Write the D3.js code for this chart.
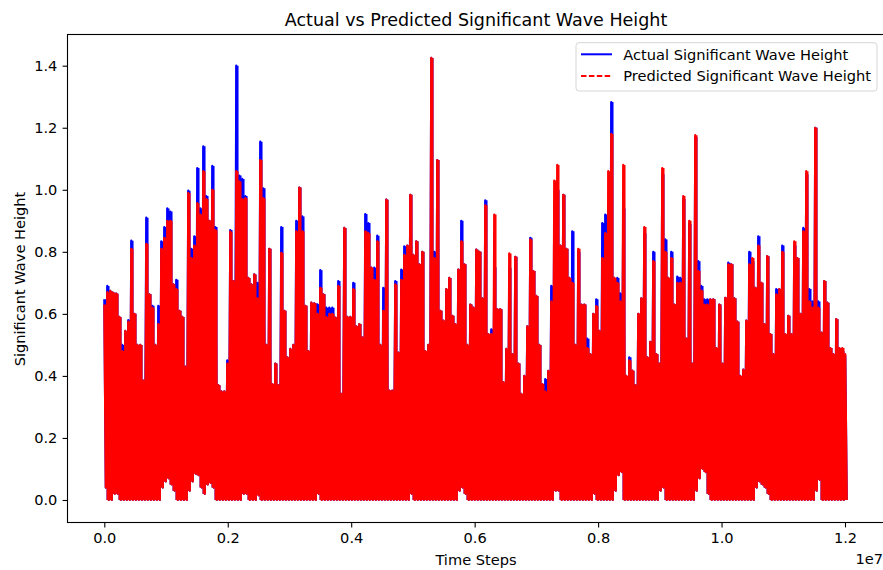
<!DOCTYPE html>
<html><head><meta charset="utf-8">
<script src="https://cdn.jsdelivr.net/npm/d3@7/dist/d3.min.js"></script>
<style>body{margin:0;background:#fff} text{font-family:"DejaVu Sans",sans-serif;fill:#000}</style>
</head><body><svg id="c" width="883" height="570"></svg>
<script>
// Peak (upper envelope) of each bin of time steps
const actualPeaks = [
0.647,0.69,0.674,0.668,0.665,0.59,0.50,0.545,0.58,0.836,
0.60,0.50,0.50,0.385,0.91,0.663,0.626,0.50,0.626,0.834,
0.88,0.94,0.93,0.695,0.71,0.61,0.59,0.43,0.997,0.81,
0.85,1.07,0.94,1.14,0.98,0.90,1.077,0.88,0.37,0.35,
0.35,0.45,0.87,0.706,1.40,1.046,1.035,0.98,0.716,0.695,
0.727,0.70,1.155,1.005,0.50,0.81,0.374,0.44,0.37,0.88,
0.61,0.46,0.487,0.50,0.90,1.007,0.914,0.626,0.48,0.636,
0.634,0.631,0.741,0.663,0.62,0.62,0.62,0.588,0.706,0.342,
0.877,0.59,0.59,0.70,0.56,0.567,0.524,0.922,0.893,0.749,
0.749,0.852,0.50,0.684,0.968,0.353,0.353,0.706,0.475,0.743,
0.818,0.82,0.984,0.79,0.834,0.76,0.80,0.48,0.50,1.425,
0.80,1.096,0.61,0.578,0.68,0.716,0.594,0.567,0.743,0.90,
0.76,0.50,0.63,0.62,0.807,0.80,0.65,0.966,0.535,0.55,
0.75,0.615,0.615,0.38,0.487,0.749,0.47,0.784,0.44,0.342,
0.40,0.56,0.845,0.738,0.658,0.50,0.374,0.39,0.416,0.69,
0.95,1.0,0.82,0.984,0.81,0.716,0.866,0.50,0.80,0.63,
0.63,0.52,0.47,0.60,0.647,0.545,0.893,0.92,0.95,1.283,
0.716,0.716,0.666,0.94,0.40,0.46,0.417,0.37,0.60,0.65,
0.86,0.46,0.51,0.80,0.47,0.44,1.05,0.84,0.716,0.80,
0.63,0.72,0.716,0.97,0.52,0.89,0.44,1.17,0.77,0.69,
0.647,0.647,0.647,0.647,0.49,0.63,0.44,0.652,0.765,0.76,
0.65,0.575,0.40,0.42,0.578,0.80,0.77,0.684,0.85,0.70,
0.567,0.786,0.535,0.47,0.68,0.68,0.82,0.535,0.594,0.535,
0.82,0.78,0.60,0.877,1.05,0.68,0.64,1.20,0.64,0.54,
0.706,0.636,0.49,0.47,0.583,0.49,0.48,0.465];

const predictedPeaks = [
0.63,0.67,0.674,0.668,0.665,0.59,0.48,0.545,0.575,0.81,
0.60,0.50,0.50,0.385,0.826,0.663,0.62,0.50,0.567,0.81,
0.845,0.90,0.90,0.695,0.68,0.61,0.59,0.43,0.99,0.78,
0.82,0.957,0.92,1.06,0.97,0.90,1.0,0.87,0.37,0.35,
0.35,0.44,0.865,0.706,1.06,1.027,0.97,0.973,0.716,0.695,
0.727,0.65,1.096,0.973,0.50,0.81,0.374,0.44,0.37,0.797,
0.61,0.46,0.487,0.50,0.866,1.007,0.866,0.626,0.48,0.636,
0.634,0.60,0.684,0.663,0.59,0.60,0.60,0.588,0.69,0.342,
0.877,0.59,0.59,0.68,0.56,0.567,0.524,0.866,0.86,0.749,
0.71,0.834,0.50,0.61,0.968,0.353,0.353,0.695,0.475,0.71,
0.79,0.82,0.984,0.79,0.834,0.76,0.80,0.48,0.50,1.425,
0.78,1.096,0.61,0.578,0.68,0.716,0.594,0.567,0.743,0.834,
0.76,0.50,0.63,0.62,0.807,0.80,0.65,0.95,0.535,0.535,
0.92,0.615,0.615,0.38,0.487,0.795,0.47,0.784,0.44,0.342,
0.40,0.56,0.84,0.738,0.658,0.50,0.374,0.35,0.416,0.64,
1.03,1.08,0.82,0.984,0.81,0.716,0.70,0.50,0.81,0.63,
0.63,0.49,0.47,0.60,0.625,0.545,0.78,0.86,1.06,1.18,
0.716,0.70,0.64,1.08,0.40,0.45,0.417,0.37,0.60,0.65,
0.88,0.46,0.51,0.77,0.47,0.44,1.07,0.80,0.716,0.78,
0.63,0.70,0.70,0.98,0.52,0.90,0.44,1.176,0.738,0.675,
0.63,0.63,0.647,0.647,0.49,0.63,0.44,0.652,0.76,0.76,
0.65,0.575,0.40,0.42,0.578,0.76,0.78,0.684,0.82,0.70,
0.567,0.786,0.535,0.47,0.663,0.68,0.80,0.535,0.594,0.535,
0.834,0.78,0.60,0.866,1.06,0.64,0.62,1.20,0.62,0.54,
0.706,0.636,0.49,0.47,0.583,0.49,0.49,0.47];

// Trough (lower envelope) of each bin
const troughs = [
0.04,0,0,0.02,0.02,0,0,0,0,0,
0,0,0,0,0,0,0,0,0,0.04,
0.06,0.07,0.05,0.03,0,0,0,0,0.03,0.06,
0.085,0.08,0.04,0.02,0.05,0.055,0.04,0,0,0,
0,0,0,0,0,0,0.02,0.02,0,0,
0,0.015,0,0,0,0,0,0,0,0,
0,0,0,0,0,0,0,0,0,0,
0,0.02,0,0,0,0,0,0,0,0,
0,0,0,0,0,0,0,0,0,0,
0,0,0,0,0,0,0,0,0,0,
0,0,0.02,0,0,0,0,0,0,0,
0,0,0,0,0,0,0,0,0.03,0.04,
0.02,0,0,0,0,0,0,0,0,0,
0,0,0,0,0,0,0,0,0,0,
0,0,0,0,0,0,0,0,0,0,
0.03,0.03,0,0,0,0,0,0,0,0,
0,0,0,0.02,0,0,0,0,0,0,
0.03,0.08,0.09,0,0,0,0,0,0,0,
0,0,0,0,0,0.03,0.04,0,0,0,
0,0,0,0,0,0,0,0.03,0.07,0.10,
0.09,0.02,0,0,0,0,0,0,0,0,
0,0,0,0,0,0,0,0.04,0.06,0.05,
0.04,0.02,0,0,0,0,0,0,0,0,
0,0,0,0,0,0,0,0.03,0.065,0,
0,0,0,0,0,0,0,0];

const stepsPerBin = 48600;
const xTicks = [0, 2e6, 4e6, 6e6, 8e6, 1e7, 1.2e7];
const xTickLabels = ["0.0","0.2","0.4","0.6","0.8","1.0","1.2"];
const yTicks = [0, 0.2, 0.4, 0.6, 0.8, 1.0, 1.2, 1.4];
const yTickLabels = ["0.0","0.2","0.4","0.6","0.8","1.0","1.2","1.4"];
const seriesNames = ["Actual Significant Wave Height", "Predicted Significant Wave Height"];
const titleText = "Actual vs Predicted Significant Wave Height";
const xLabelText = "Time Steps";
const yLabelText = "Significant Wave Height";
const offsetText = "1e7";

const FS = 14.6;
const svg = d3.select("#c");
const L = 67.5, R = 888, T = 34.5, B = 522.5;
const x = d3.scaleLinear().domain([0, 1.2e7]).range([104.3, 845]);
const y = d3.scaleLinear().domain([0, 1.4]).range([500, 65.7]);

svg.append("defs").append("clipPath").attr("id","clip")
  .append("rect").attr("x",L).attr("y",T).attr("width",R-L).attr("height",B-T);

function zig(peaks){
  const pts = [];
  peaks.forEach((p,i)=>{ pts.push([i*stepsPerBin, p]); pts.push([(i+0.5)*stepsPerBin, troughs[i]]); });
  return pts;
}
const line = d3.line().x(d=>x(d[0])).y(d=>y(d[1]));
const area = d3.area().curve(d3.curveStep)
  .x((d,i)=>x((i+0.25)*stepsPerBin)).y0((d,i)=>y(troughs[i])).y1(d=>y(d));
const g = svg.append("g").attr("clip-path","url(#clip)");
[[actualPeaks,"#0000ff"],[predictedPeaks,"#ff0000"]].forEach(([peaks,col])=>{
  g.append("path").attr("d", area(peaks)).attr("fill",col).attr("stroke","none");
  g.append("path").attr("d", line(zig(peaks)))
    .attr("fill","none").attr("stroke",col).attr("stroke-width",2.2).attr("stroke-linejoin","round");
});

// axes
const xAxis = d3.axisBottom(x).tickValues(xTicks).tickFormat((d,i)=>xTickLabels[i]).tickSize(4.9).tickPadding(5.3);
const gx = svg.append("g").attr("transform",`translate(0,${B})`).call(xAxis);
const yAxis = d3.axisLeft(y).tickValues(yTicks).tickFormat((d,i)=>yTickLabels[i]).tickSize(4.9).tickPadding(5.2);
const gy = svg.append("g").attr("transform",`translate(${L},0)`).call(yAxis);
[gx,gy].forEach(a=>{
  a.select(".domain").remove();
  a.selectAll(".tick line").attr("stroke","#000").attr("stroke-width",1.1);
  a.selectAll(".tick text").attr("font-size",FS+"px").attr("font-family","DejaVu Sans").attr("fill","#262626");
});

// spines
svg.append("rect").attr("x",L).attr("y",T).attr("width",R-L).attr("height",B-T)
  .attr("fill","none").attr("stroke","#000").attr("stroke-width",1.1);

// labels
svg.append("text").attr("x",476).attr("y",26).attr("text-anchor","middle").attr("font-size","17.5px").text(titleText);
svg.append("text").attr("x",476).attr("y",565).attr("text-anchor","middle").attr("font-size",FS+"px").text(xLabelText);
svg.append("text").attr("transform","translate(24.5,279) rotate(-90)").attr("text-anchor","middle").attr("font-size",FS+"px").text(yLabelText);
svg.append("text").attr("x",883).attr("y",563.5).attr("text-anchor","end").attr("font-size",FS+"px").text(offsetText);

// legend
const lg = svg.append("g");
lg.append("rect").attr("x",576).attr("y",42.7).attr("width",301).attr("height",48.3).attr("rx",3)
  .attr("fill","#fff").attr("fill-opacity",0.8).attr("stroke","#d6d6d6").attr("stroke-width",1);
const colors = ["#0000ff","#ff0000"];
const dashes = [null, "5.5,2.4"];
seriesNames.forEach((n,i)=>{
  const yy = 54.3 + i*21.7;
  lg.append("line").attr("x1",581).attr("x2",612).attr("y1",yy).attr("y2",yy)
    .attr("stroke",colors[i]).attr("stroke-width",2).attr("stroke-dasharray",dashes[i]);
  lg.append("text").attr("x",623.3).attr("y",yy+5.2).attr("font-size",FS+"px").text(n);
});
</script></body></html>
